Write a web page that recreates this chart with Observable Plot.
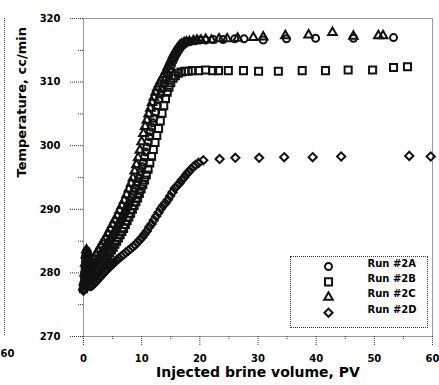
<!DOCTYPE html>
<html>
<head>
<meta charset="utf-8">
<script src="https://cdn.jsdelivr.net/npm/d3@7"></script>
<script src="https://cdn.jsdelivr.net/npm/@observablehq/plot@0.6"></script>
<style>
  html, body { margin: 0; padding: 0; background: #fff; }
  #chart { position: relative; width: 439px; height: 385px; }
  #legend-box {
    position: absolute; left: 290px; top: 256px; width: 136px; height: 70px;
    border: 1px dotted #333; pointer-events: none;
  }
</style>
</head>
<body>
<div id="chart"><div id="legend-box"></div></div>
<script>
// Axis ticks
const xTicks = [0, 10, 20, 30, 40, 50, 60];
const xMinor = [5, 15, 25, 35, 45, 55];
const yTicks = [270, 280, 290, 300, 310, 320];
const yMinor = [275, 285, 295, 305, 315];

const xTitle = "Injected brine volume, PV";
const yTitle = "Temperature, cc/min";
const runNames = ["Run #2A", "Run #2B", "Run #2C", "Run #2D"];

// [injected PV, temperature]
const run2A = [[0.05,277.6],[0.15,278.6],[0.25,280.1],[0.35,281.6],[0.45,282.8],[0.55,283.5],[0.65,283.1],[0.75,282.2],[0.85,281.2],[0.95,280.4],[1.1,279.9],[1.3,280.1],[1.5,280.4],[1.7,280.8],[1.9,281.1],[2.1,281.4],[2.3,281.7],[2.5,282.0],[2.7,282.3],[2.9,282.6],[3.1,282.9],[3.3,283.2],[3.5,283.5],[3.7,283.8],[3.9,284.1],[4.1,284.4],[4.3,284.7],[4.5,285.0],[4.7,285.3],[4.9,285.6],[5.1,285.9],[5.3,286.2],[5.5,286.5],[5.7,286.9],[5.9,287.2],[6.1,287.5],[6.3,287.9],[6.5,288.2],[6.7,288.6],[6.9,289.0],[7.1,289.4],[7.3,289.8],[7.5,290.2],[7.7,290.6],[7.9,291.0],[8.1,291.4],[8.3,291.8],[8.5,292.3],[8.7,292.8],[8.9,293.3],[9.1,293.8],[9.3,294.3],[9.5,294.8],[9.7,295.4],[9.9,296.0],[10.1,296.7],[10.3,297.4],[10.5,298.2],[10.7,299.0],[10.9,299.8],[11.1,300.6],[11.3,301.4],[11.5,302.2],[11.7,302.9],[11.9,303.6],[12.1,304.3],[12.4,305.3],[12.7,306.3],[13.0,307.2],[13.3,308.1],[13.6,308.9],[13.9,309.7],[14.2,310.5],[14.5,311.2],[14.8,311.9],[15.1,312.6],[15.4,313.3],[15.7,313.9],[16.0,314.4],[16.3,314.9],[16.6,315.3],[16.9,315.7],[17.3,316.0],[17.8,316.3],[18.4,316.4],[19.2,316.5],[20.0,316.6],[21.0,316.6],[22.3,316.7],[24.0,316.7],[26.0,316.8],[27.6,316.8],[30.9,316.6],[34.9,316.8],[39.9,316.9],[46.4,316.9],[53.3,317.0]];

const run2B = [[0.0,277.5],[0.1,278.0],[0.2,279.0],[0.3,280.4],[0.4,281.8],[0.5,282.8],[0.6,282.9],[0.7,282.1],[0.8,281.0],[0.9,280.0],[1.0,279.2],[1.2,279.0],[1.5,279.3],[1.8,279.6],[2.1,280.0],[2.4,280.4],[2.7,280.8],[3.0,281.2],[3.3,281.6],[3.6,282.0],[3.9,282.4],[4.2,282.8],[4.5,283.2],[4.8,283.6],[5.1,284.0],[5.4,284.5],[5.7,285.0],[6.0,285.5],[6.3,286.0],[6.6,286.5],[6.9,287.0],[7.2,287.6],[7.5,288.2],[7.8,288.8],[8.1,289.4],[8.4,290.0],[8.7,290.6],[9.0,291.2],[9.3,291.8],[9.6,292.5],[9.9,293.2],[10.2,293.9],[10.5,294.6],[10.8,295.4],[11.1,296.3],[11.4,297.3],[11.7,298.3],[12.0,299.4],[12.3,300.5],[12.6,301.6],[12.9,302.7],[13.2,303.9],[13.5,305.1],[13.8,306.3],[14.1,307.4],[14.4,308.4],[14.7,309.2],[15.0,309.9],[15.4,310.6],[15.8,311.0],[16.3,311.4],[16.8,311.6],[17.4,311.7],[18.0,311.7],[18.7,311.8],[19.8,311.8],[21.0,311.9],[22.2,311.8],[23.2,311.8],[24.9,311.8],[27.5,311.8],[30.1,311.7],[33.5,311.7],[37.6,311.8],[41.6,311.8],[45.5,311.9],[49.7,311.9],[53.3,312.3],[55.7,312.4]];

const run2C = [[0.0,277.8],[0.1,278.6],[0.2,280.0],[0.3,281.5],[0.4,282.8],[0.5,283.6],[0.6,283.2],[0.7,282.4],[0.8,281.4],[0.9,280.8],[1.0,280.6],[1.2,281.0],[1.5,281.7],[1.8,282.3],[2.2,283.0],[2.6,283.6],[3.0,284.3],[3.4,284.9],[3.8,285.5],[4.2,286.2],[4.6,286.9],[5.0,287.6],[5.4,288.3],[5.8,289.0],[6.2,289.8],[6.6,290.6],[7.0,291.4],[7.4,292.3],[7.8,293.2],[8.2,294.1],[8.5,294.9],[8.8,296.0],[9.1,297.0],[9.4,298.1],[9.7,299.3],[10.0,300.6],[10.3,301.9],[10.6,303.0],[10.9,304.0],[11.2,305.0],[11.5,305.9],[11.8,306.8],[12.1,307.6],[12.4,308.4],[12.7,309.1],[13.0,309.7],[13.3,310.2],[13.6,310.7],[13.9,311.2],[14.2,311.8],[14.5,312.4],[14.8,313.0],[15.1,313.6],[15.4,314.2],[15.7,314.7],[16.0,315.1],[16.3,315.5],[16.6,315.8],[16.9,316.0],[17.3,316.2],[17.7,316.3],[18.2,316.4],[18.9,316.5],[19.5,316.6],[20.2,316.6],[21.0,316.7],[22.0,316.6],[23.3,316.8],[24.7,316.8],[26.5,316.9],[29.2,317.0],[30.9,317.1],[34.7,317.3],[38.7,317.4],[42.8,317.8],[46.4,317.2],[50.7,317.3],[51.5,317.3]];

const run2D = [[0.0,277.2],[0.1,277.5],[0.2,278.2],[0.3,279.2],[0.4,280.2],[0.5,280.8],[0.6,280.6],[0.7,279.9],[0.8,279.1],[0.9,278.4],[1.0,278.0],[1.3,277.9],[1.6,278.1],[1.9,278.4],[2.2,278.7],[2.5,279.0],[2.8,279.3],[3.1,279.6],[3.4,279.9],[3.7,280.2],[4.0,280.5],[4.3,280.8],[4.6,281.0],[4.9,281.3],[5.2,281.6],[5.5,281.8],[5.8,282.1],[6.1,282.3],[6.5,282.6],[6.9,282.9],[7.3,283.2],[7.7,283.5],[8.1,283.8],[8.5,284.1],[8.9,284.4],[9.3,284.8],[9.7,285.2],[10.1,285.6],[10.5,286.1],[10.9,286.6],[11.3,287.2],[11.7,287.7],[12.1,288.3],[12.5,288.9],[12.9,289.5],[13.3,290.1],[13.7,290.6],[14.1,291.0],[14.5,291.5],[14.9,292.1],[15.3,292.7],[15.7,293.3],[16.1,293.7],[16.5,294.1],[16.9,294.6],[17.3,295.0],[17.7,295.5],[18.1,295.9],[18.5,296.3],[18.9,296.7],[19.3,297.0],[19.8,297.3],[20.6,297.7],[23.4,297.9],[26.1,298.1],[30.2,298.1],[34.5,298.2],[39.4,298.2],[44.3,298.3],[56.0,298.4],[59.7,298.3]];

const runs = [
  {name: runNames[0], points: run2A, symbol: "circle", r: 3.5},
  {name: runNames[1], points: run2B, symbol: "square2", r: 4.5},
  {name: runNames[2], points: run2C, symbol: "triangle2", r: 4.1},
  {name: runNames[3], points: run2D, symbol: "diamond2", r: 3.7}
];

const ink = "#111";
const dotted = "1,1";
const markerWidth = 2;

const dataMarks = runs.map(run => Plot.dot(run.points, {
  x: d => d[0], y: d => d[1], symbol: run.symbol, r: run.r,
  stroke: ink, fill: "none", strokeWidth: markerWidth
}));

// Legend rows anchored to the lower-right corner of the frame
const legendMarks = runs.flatMap((run, i) => [
  Plot.dot([run], {frameAnchor: "bottom-right", dx: -104, dy: -70 + i * 15.4,
    symbol: run.symbol, r: run.r, stroke: ink, fill: "none", strokeWidth: markerWidth}),
  Plot.text([run], {frameAnchor: "bottom-right", dx: -65, dy: -70 + i * 15.4,
    text: d => d.name, textAnchor: "start", fontSize: 10, fontWeight: "bold"})
]);

const chart = Plot.plot({
  width: 439,
  height: 385,
  marginLeft: 83,
  marginRight: 7,
  marginTop: 18,
  marginBottom: 49,
  x: {domain: [0, 60]},
  y: {domain: [270, 320]},
  style: {fontFamily: "DejaVu Sans", fontWeight: "bold", fontSize: "10px", color: "#000", background: "#fff", overflow: "visible"},
  marks: [
    // edge of the neighbouring panel
    Plot.ruleX([0], {dx: -79, stroke: "#444", strokeDasharray: dotted}),
    Plot.text(["60"], {frameAnchor: "bottom-left", dx: -83, dy: 20, text: d => d, textAnchor: "start", fontSize: 10, fontWeight: "bold"}),
    Plot.frame({stroke: "#333", strokeDasharray: dotted}),
    Plot.axisX(xTicks, {tickSize: 9, tickPadding: 9, stroke: "#333", strokeDasharray: dotted, label: null, fontSize: 10}),
    Plot.axisX(xMinor, {tickSize: 4, tickFormat: () => "", stroke: "#333", strokeDasharray: dotted, label: null}),
    Plot.axisY(yTicks, {tickSize: 14, tickPadding: 9, stroke: "#333", strokeDasharray: dotted, label: null, fontSize: 10}),
    Plot.axisY(yMinor, {tickSize: 5, tickFormat: () => "", stroke: "#333", strokeDasharray: dotted, label: null}),
    ...dataMarks,
    ...legendMarks,
    Plot.text([xTitle], {frameAnchor: "bottom", dy: 40, text: d => d, fontSize: 14, fontWeight: "bold"}),
    Plot.text([yTitle], {frameAnchor: "left", dx: -62, rotate: -90, text: d => d, fontSize: 13, fontWeight: "bold"})
  ]
});

document.getElementById("chart").prepend(chart);
</script>
</body>
</html>
